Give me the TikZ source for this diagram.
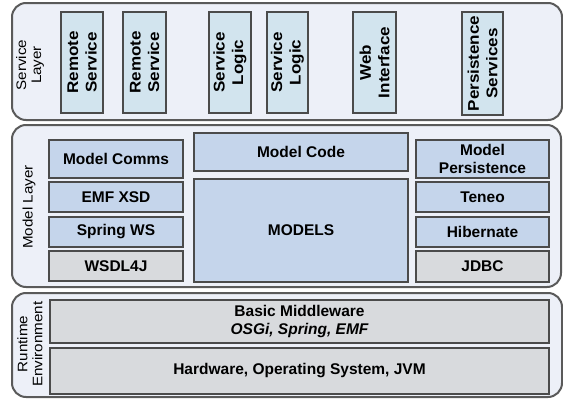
\documentclass[tikz,border=0pt]{standalone}
\usepackage{fontspec}
\setmainfont{Liberation Sans}
\newfontfamily\wideface[FakeStretch=1.1]{Liberation Sans}
\usetikzlibrary{shadows}
\definecolor{layerfill}{RGB}{237,240,248}
\definecolor{layerline}{RGB}{90,90,90}
\definecolor{svcfill}{RGB}{210,228,238}
\definecolor{mdlfill}{RGB}{197,213,235}
\definecolor{grayfill}{RGB}{216,218,221}
\definecolor{boxline}{RGB}{75,75,75}
\tikzset{
  layer/.style={draw=layerline, fill=layerfill, line width=2pt, rounded corners=14pt},
  box/.style={draw=boxline, line width=1.6pt, inner sep=0pt, align=center,
    font=\fontsize{15.5}{18.5}\selectfont\bfseries,
    drop shadow={shadow xshift=1pt, shadow yshift=-1pt, opacity=0.35}},
  svcbox/.style={box, fill=svcfill, rotate=90, minimum width=101, font=\fontsize{15.5}{18.5}\wideface\bfseries},
  mdlbox/.style={box, fill=mdlfill},
  graybox/.style={box, fill=grayfill},
  sidelabel/.style={rotate=90, align=center, font=\fontsize{13.8}{15}\wideface}
}
\begin{document}
\begin{tikzpicture}[x=1pt, y=-1pt]
\useasboundingbox (0,0) rectangle (563,399);
% layers
\draw[layer] (12,3) rectangle (562,120);
\draw[layer] (12,125) rectangle (561,287);
\draw[layer] (12,293) rectangle (562,397);
% side labels
\node[sidelabel] (lsvc) at (30,65) {Service\\Layer};
\node[sidelabel] (lmdl) at (29,207) {Model Layer};
\node[sidelabel] (lrt) at (30,344) {Runtime\\Environment};
% service layer
\node[svcbox, minimum height=42] (rs1) at (82,62.5) {Remote\\Service};
\node[svcbox, minimum height=43] (rs2) at (144.5,62.5) {Remote\\Service};
\node[svcbox, minimum height=42] (sl1) at (230,62.5) {Service\\Logic};
\node[svcbox, minimum height=41] (sl2) at (287.5,62.5) {Service\\Logic};
\node[svcbox, minimum height=43] (wi) at (374.5,62.5) {Web\\Interface};
\node[svcbox, minimum height=41, minimum width=103] (ps) at (482.5,63.5) {Persistence\\Services};
% model layer left
\node[mdlbox, minimum width=134, minimum height=38] (mc) at (116,159) {Model Comms};
\node[mdlbox, minimum width=134, minimum height=30] (emf) at (116,197) {EMF XSD};
\node[mdlbox, minimum width=134, minimum height=30] (sws) at (116,232) {Spring WS};
\node[graybox, minimum width=134, minimum height=30] (wsdl) at (116,266) {WSDL4J};
% model layer centre
\node[mdlbox, minimum width=214, minimum height=38] (code) at (301,152) {Model Code};
\node[mdlbox, minimum width=214, minimum height=103] (models) at (301,230.5) {MODELS};
% model layer right
\node[mdlbox, minimum width=133, minimum height=38] (mp) at (482.5,159) {Model\\Persistence};
\node[mdlbox, minimum width=133, minimum height=30] (ten) at (482.5,197) {Teneo};
\node[mdlbox, minimum width=133, minimum height=30] (hib) at (482.5,232) {Hibernate};
\node[graybox, minimum width=133, minimum height=31] (jdbc) at (482.5,266.5) {JDBC};
% runtime
\node[graybox, minimum width=499, minimum height=43] (mw) at (299.5,321.5) {Basic Middleware\\\itshape OSGi, Spring, EMF};
\node[graybox, minimum width=499, minimum height=46] (hw) at (299.5,371) {Hardware, Operating System, JVM};
\end{tikzpicture}
\end{document}
